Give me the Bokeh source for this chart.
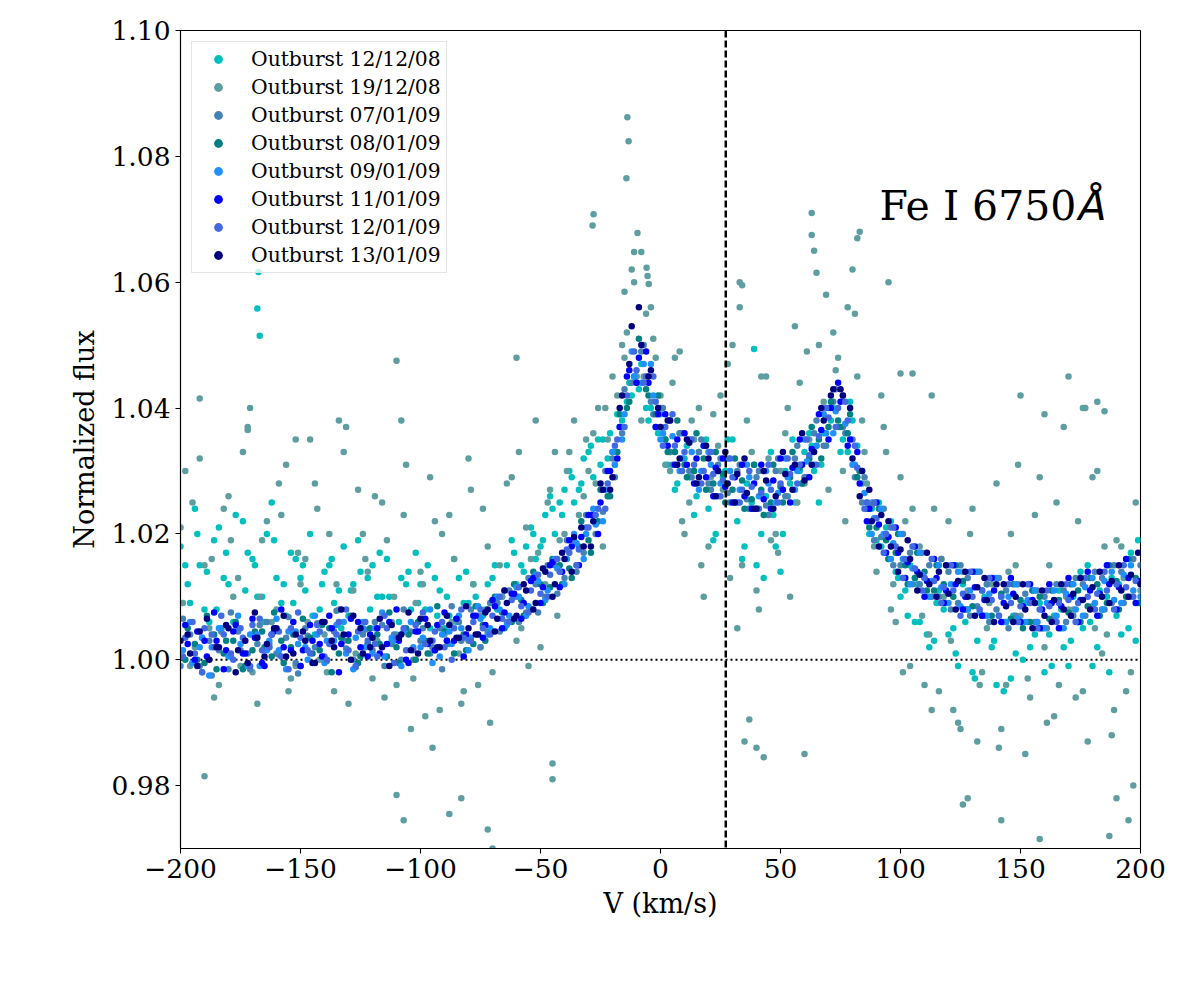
from bokeh.plotting import figure
from bokeh.models import Range1d, FixedTicker, Span, Label, PrintfTickFormatter
from bokeh.embed import file_html
from bokeh.resources import INLINE

# ---------------- data ----------------
SERIES_LABELS = ["Outburst 12/12/08", "Outburst 19/12/08", "Outburst 07/01/09",
                 "Outburst 08/01/09", "Outburst 09/01/09", "Outburst 11/01/09",
                 "Outburst 12/01/09", "Outburst 13/01/09"]
SERIES_COLORS = ["#00bfbf", "#5f9ea0", "#4682b4", "#008080", "#1e90ff",
                 "#0000ff", "#4169e1", "#000080"]

XTICKS = [-200, -150, -100, -50, 0, 50, 100, 150, 200]
YTICKS = [0.98, 1.00, 1.02, 1.04, 1.06, 1.08, 1.10]

V_SYS = 27.2          # systemic velocity (dashed line)
CONTINUUM = 1.0       # continuum level (dotted line)

# velocity samples (km/s)
V_A = [-200, -196, -192, -188, -184, -180, -176, -172, -168, -164,
       -160, -156, -152, -148, -144, -140, -136, -132, -128, -124,
       -120, -116, -112, -108, -104, -100, -96, -92, -88, -84,
       -80, -76, -72, -68, -64, -60, -56, -52, -48, -44,
       -40, -36, -32, -28, -24, -20, -16, -12, -8, -4,
       0, 4, 8, 12, 16, 20, 24, 28, 32, 36,
       40, 44, 48, 52, 56, 60, 64, 68, 72, 76,
       80, 84, 88, 92, 96, 100, 104, 108, 112, 116,
       120, 124, 128, 132, 136, 140, 144, 148, 152, 156,
       160, 164, 168, 172, 176, 180, 184, 188, 192, 196,
       200]
V_B = [-198, -194, -190, -186, -182, -178, -174, -170, -166, -162,
       -158, -154, -150, -146, -142, -138, -134, -130, -126, -122,
       -118, -114, -110, -106, -102, -98, -94, -90, -86, -82,
       -78, -74, -70, -66, -62, -58, -54, -50, -46, -42,
       -38, -34, -30, -26, -22, -18, -14, -10, -6, -2,
       2, 6, 10, 14, 18, 22, 26, 30, 34, 38,
       42, 46, 50, 54, 58, 62, 66, 70, 74, 78,
       82, 86, 90, 94, 98, 102, 106, 110, 114, 118,
       122, 126, 130, 134, 138, 142, 146, 150, 154, 158,
       162, 166, 170, 174, 178, 182, 186, 190, 194, 198]
V_C = [-199, -195, -191, -187, -183, -179, -175, -171, -167, -163,
       -159, -155, -151, -147, -143, -139, -135, -131, -127, -123,
       -119, -115, -111, -107, -103, -99, -95, -91, -87, -83,
       -79, -75, -71, -67, -63, -59, -55, -51, -47, -43,
       -39, -35, -31, -27, -23, -19, -15, -11, -7, -3,
       1, 5, 9, 13, 17, 21, 25, 29, 33, 37,
       41, 45, 49, 53, 57, 61, 65, 69, 73, 77,
       81, 85, 89, 93, 97, 101, 105, 109, 113, 117,
       121, 125, 129, 133, 137, 141, 145, 149, 153, 157,
       161, 165, 169, 173, 177, 181, 185, 189, 193, 197]
V_D = [-197, -193, -189, -185, -181, -177, -173, -169, -165, -161,
       -157, -153, -149, -145, -141, -137, -133, -129, -125, -121,
       -117, -113, -109, -105, -101, -97, -93, -89, -85, -81,
       -77, -73, -69, -65, -61, -57, -53, -49, -45, -41,
       -37, -33, -29, -25, -21, -17, -13, -9, -5, -1,
       3, 7, 11, 15, 19, 23, 27, 31, 35, 39,
       43, 47, 51, 55, 59, 63, 67, 71, 75, 79,
       83, 87, 91, 95, 99, 103, 107, 111, 115, 119,
       123, 127, 131, 135, 139, 143, 147, 151, 155, 159,
       163, 167, 171, 175, 179, 183, 187, 191, 195, 199]

# ---- Outburst 12/12/08 (three passes + a few outliers)
F_1212_A = [1.0180, 1.0090, 1.0150, 1.0060, 1.0210, 1.0120, 1.0050, 1.0170, 1.0100, 1.0200,
            1.0130, 1.0070, 1.0160, 1.0110, 1.0040, 1.0140, 1.0090, 1.0180, 1.0120, 1.0060,
            1.0150, 1.0100, 1.0030, 1.0130, 1.0080, 1.0120, 1.0050, 1.0110, 1.0070, 1.0130,
            1.0090, 1.0040, 1.0120, 1.0080, 1.0150, 1.0120, 1.0180, 1.0160, 1.0230, 1.0200,
            1.0270, 1.0250, 1.0320, 1.0290, 1.0350, 1.0330, 1.0380, 1.0420, 1.0470, 1.0400,
            1.0390, 1.0330, 1.0360, 1.0290, 1.0330, 1.0240, 1.0300, 1.0350, 1.0220, 1.0280,
            1.0150, 1.0260, 1.0180, 1.0300, 1.0250, 1.0330, 1.0300, 1.0360, 1.0400, 1.0350,
            1.0380, 1.0280, 1.0240, 1.0180, 1.0220, 1.0100, 1.0150, 1.0060, 1.0020, 1.0110,
            1.0040, 0.9990, 1.0080, 1.0030, 1.0120, 0.9960, 1.0060, 1.0010, 1.0090, 1.0040,
            0.9980, 1.0070, 1.0020, 1.0100, 1.0050, 0.9990, 1.0080, 1.0130, 1.0040, 1.0170,
            1.0090]
F_1212_D = [1.0120, 1.0200, 1.0140, 1.0080, 1.0170, 1.0230, 1.0110, 1.0150, 1.0060, 1.0190,
            1.0120, 1.0090, 1.0150, 1.0070, 1.0120, 1.0160, 1.0050, 1.0110, 1.0140, 1.0080,
            1.0170, 1.0100, 1.0060, 1.0140, 1.0090, 1.0150, 1.0070, 1.0100, 1.0060, 1.0140,
            1.0100, 1.0080, 1.0150, 1.0110, 1.0170, 1.0140, 1.0200, 1.0190, 1.0240, 1.0230,
            1.0290, 1.0280, 1.0340, 1.0310, 1.0360, 1.0370, 1.0440, 1.0430, 1.0380, 1.0360,
            1.0310, 1.0280, 1.0340, 1.0260, 1.0350, 1.0200, 1.0300, 1.0250, 1.0180, 1.0310,
            1.0130, 1.0230, 1.0200, 1.0350, 1.0280, 1.0340, 1.0310, 1.0380, 1.0330, 1.0410,
            1.0300, 1.0200, 1.0250, 1.0160, 1.0130, 1.0070, 1.0120, 1.0040, 1.0090, 1.0150,
            1.0010, 1.0060, 0.9970, 1.0100, 1.0030, 0.9950, 1.0070, 1.0000, 1.0110, 1.0050,
            0.9990, 1.0080, 1.0030, 1.0140, 1.0060, 1.0110, 0.9980, 1.0120, 1.0050, 1.0190]
F_1212_B = [1.0150, 1.0240, 1.0080, 1.0190, 1.0130, 1.0060, 1.0220, 1.0160, 1.0100, 1.0250,
            1.0090, 1.0170, 1.0130, 1.0200, 1.0080, 1.0150, 1.0110, 1.0070, 1.0190, 1.0130,
            1.0100, 1.0160, 1.0040, 1.0120, 1.0170, 1.0080, 1.0130, 1.0050, 1.0160, 1.0090,
            1.0120, 1.0070, 1.0130, 1.0100, 1.0190, 1.0150, 1.0210, 1.0180, 1.0260, 1.0250,
            1.0300, 1.0270, 1.0330, 1.0350, 1.0320, 1.0390, 1.0410, 1.0450, 1.0400, 1.0370,
            1.0350, 1.0270, 1.0320, 1.0230, 1.0340, 1.0190, 1.0290, 1.0350, 1.0160, 1.0250,
            1.0200, 1.0330, 1.0140, 1.0280, 1.0300, 1.0360, 1.0250, 1.0400, 1.0370, 1.0330,
            1.0340, 1.0250, 1.0190, 1.0210, 1.0140, 1.0110, 1.0060, 1.0130, 1.0030, 1.0080,
            1.0050, 1.0120, 0.9980, 1.0070, 1.0020, 1.0100, 0.9970, 1.0060, 1.0020, 1.0090,
            1.0040, 1.0110, 0.9990, 1.0060, 1.0150, 1.0020, 1.0100, 1.0070, 1.0160, 1.0030]
V_1212_OUT = [-167.5, -168.0, -167.0, 39.0]
F_1212_OUT = [1.0616, 1.0558, 1.0515, 1.0494]

# ---- Outburst 19/12/08 (noisy)
F_1912_A = [1.0210, 0.9990, 1.0320, 1.0050, 0.9960, 1.0260, 1.0130, 1.0370, 0.9930, 1.0220,
            1.0080, 1.0310, 0.9990, 1.0160, 1.0280, 1.0040, 0.9950, 1.0330, 1.0110, 1.0200,
            0.9970, 1.0250, 1.0060, 1.0380, 0.9890, 1.0140, 1.0290, 0.9920, 1.0230, 1.0010,
            1.0320, 0.9960, 1.0180, 1.0090, 1.0280, 1.0030, 1.0210, 1.0380, 1.0120, 1.0330,
            1.0200, 1.0380, 1.0260, 1.0360, 1.0180, 1.0450, 1.0500, 1.0620, 1.0380, 1.0560,
            1.0420, 1.0300, 1.0490, 1.0250, 1.0400, 1.0180, 1.0340, 1.0470, 1.0050, 1.0380,
            1.0110, 1.0450, 1.0200, 1.0360, 1.0530, 1.0280, 1.0650, 1.0410, 1.0520, 1.0300,
            1.0620, 1.0380, 1.0250, 1.0420, 1.0080, 1.0290, 0.9990, 1.0180, 1.0040, 0.9950,
            1.0220, 0.9900, 1.0110, 0.9870, 1.0050, 1.0280, 0.9960, 1.0150, 0.9850, 1.0230,
            1.0020, 0.9910, 1.0370, 1.0080, 0.9950, 1.0290, 1.0010, 0.9880, 1.0180, 0.9980,
            1.0110]
F_1912_C = [1.0090, 1.0250, 0.9980, 1.0160, 1.0050, 1.0190, 0.9990, 1.0400, 1.0100, 1.0020,
            1.0280, 0.9950, 1.0170, 1.0060, 1.0240, 0.9980, 1.0120, 1.0370, 1.0010, 1.0160,
            1.0260, 0.9940, 1.0100, 1.0230, 0.9970, 1.0120, 0.9860, 1.0200, 1.0060, 0.9930,
            1.0270, 1.0020, 0.9900, 1.0150, 1.0060, 1.0330, 0.9990, 1.0170, 1.0250, 1.0070,
            1.0300, 1.0150, 1.0350, 1.0280, 1.0400, 1.0310, 1.0480, 1.0600, 1.0450, 1.0510,
            1.0360, 1.0440, 1.0220, 1.0380, 1.0150, 1.0290, 1.0420, 1.0130, 1.0560, 1.0240,
            1.0080, 1.0320, 1.0170, 1.0400, 1.0250, 1.0490, 1.0340, 1.0580, 1.0460, 1.0220,
            1.0550, 1.0330, 1.0180, 1.0370, 1.0120, 0.9980, 1.0240, 1.0070, 0.9920, 1.0160,
            1.0030, 0.9890, 1.0200, 0.9960, 1.0090, 0.9860, 1.0140, 1.0310, 0.9970, 1.0060,
            0.9900, 1.0250, 1.0100, 0.9940, 1.0400, 1.0050, 1.0180, 0.9920, 1.0130, 0.9800]
F_1912_B = [1.0300, 1.0020, 1.0150, 0.9940, 1.0240, 1.0100, 1.0330, 0.9980, 1.0190, 1.0060,
            1.0230, 0.9970, 1.0120, 1.0350, 1.0000, 1.0200, 1.0080, 0.9930, 1.0270, 1.0140,
            1.0030, 1.0190, 0.9960, 1.0310, 1.0090, 0.9910, 1.0220, 1.0040, 1.0160, 0.9950,
            1.0120, 1.0240, 0.9980, 1.0100, 1.0290, 1.0050, 1.0160, 1.0020, 1.0270, 1.0190,
            1.0330, 1.0230, 1.0300, 1.0400, 1.0350, 1.0420, 1.0520, 1.0450, 1.0550, 1.0480,
            1.0310, 1.0480, 1.0200, 1.0350, 1.0100, 1.0390, 1.0270, 1.0500, 1.0150, 1.0330,
            1.0450, 1.0190, 1.0300, 1.0100, 1.0440, 1.0350, 1.0500, 1.0270, 1.0480, 1.0560,
            1.0450, 1.0280, 1.0140, 1.0330, 1.0060, 1.0220, 1.0130, 0.9960, 1.0240, 1.0100,
            0.9920, 1.0140, 1.0240, 0.9980, 1.0120, 0.9890, 1.0200, 1.0070, 0.9940, 1.0290,
            1.0150, 0.9960, 1.0080, 1.0220, 0.9870, 1.0300, 1.0040, 1.0190, 0.9950, 1.0250]
V_1912_OUT = [-13.8, -13.3, -14.2, -27.9, -28.3, -9.6, -11, -8, -5.8, -5.4,
              -4.9, -15, -110, -192, -190, -107, -110, -70, -72, -88,
              -83, 33, 34, 63, 63, 83, 82, 65, 95, 35,
              37, 40, 43, 105, 142, 158, 187, 195, 190, 170,
              182, 185, -45, -45, 128, 126, 60, 150, 160, 176,
              113, 100, -172, -134, -152, -60]
F_1912_OUT = [1.0862, 1.0824, 1.0765, 1.0708, 1.0690, 1.0678, 1.0648, 1.0648, 1.0623, 1.0610,
              1.0597, 1.0585, 1.0475, 1.0415, 0.9815, 0.9745, 0.9785, 0.9700, 0.9730, 0.9755,
              0.9780, 1.0600, 1.0595, 1.0710, 1.0675, 1.0680, 1.0670, 1.0615, 1.0600, 0.9870,
              0.9905, 0.9860, 0.9845, 1.0455, 0.9745, 0.9715, 0.9720, 0.9745, 0.9780, 1.0450,
              1.0410, 1.0395, 0.9835, 0.9810, 0.9780, 0.9770, 0.9850, 1.0420, 1.0390, 1.0400,
              1.0420, 1.0455, 1.0365, 1.0380, 1.0350, 1.0480]

# ---- Outburst 07/01/09 (grids A and C)
F_0701_A = [1.0005, 1.0040, 0.9990, 1.0030, 1.0015, 0.9985, 1.0045, 1.0010, 1.0025, 1.0060,
            1.0010, 1.0035, 0.9995, 1.0050, 1.0020, 1.0005, 1.0045, 1.0030, 1.0000, 1.0040,
            1.0015, 1.0055, 1.0025, 1.0000, 1.0045, 1.0030, 1.0010, 1.0050, 1.0025, 1.0060,
            1.0030, 1.0070, 1.0045, 1.0090, 1.0060, 1.0100, 1.0075, 1.0120, 1.0100, 1.0150,
            1.0130, 1.0190, 1.0170, 1.0230, 1.0235, 1.0320, 1.0360, 1.0440, 1.0490, 1.0410,
            1.0400, 1.0330, 1.0360, 1.0300, 1.0330, 1.0280, 1.0310, 1.0265, 1.0300, 1.0255,
            1.0290, 1.0245, 1.0300, 1.0260, 1.0320, 1.0290, 1.0360, 1.0340, 1.0410, 1.0370,
            1.0350, 1.0250, 1.0245, 1.0195, 1.0210, 1.0150, 1.0170, 1.0120, 1.0150, 1.0100,
            1.0140, 1.0090, 1.0130, 1.0085, 1.0120, 1.0080, 1.0110, 1.0070, 1.0105, 1.0060,
            1.0100, 1.0065, 1.0110, 1.0070, 1.0120, 1.0085, 1.0130, 1.0090, 1.0140, 1.0100,
            1.0150]
F_0701_C = [1.0065, 0.9995, 1.0035, 0.9975, 1.0045, 1.0075, 1.0015, 0.9985, 1.0055, 1.0025,
            1.0008, 1.0068, 0.9978, 1.0038, 1.0058, 0.9998, 1.0078, 1.0018, 0.9988, 1.0048,
            1.0060, 0.9990, 1.0040, 1.0080, 1.0000, 1.0050, 1.0020, 0.9985, 1.0085, 1.0030,
            1.0080, 1.0020, 1.0090, 1.0045, 1.0110, 1.0060, 1.0130, 1.0075, 1.0150, 1.0105,
            1.0190, 1.0140, 1.0230, 1.0200, 1.0300, 1.0290, 1.0430, 1.0450, 1.0500, 1.0390,
            1.0400, 1.0310, 1.0360, 1.0290, 1.0350, 1.0270, 1.0320, 1.0250, 1.0310, 1.0240,
            1.0300, 1.0230, 1.0320, 1.0260, 1.0340, 1.0290, 1.0380, 1.0340, 1.0430, 1.0360,
            1.0290, 1.0290, 1.0190, 1.0240, 1.0150, 1.0200, 1.0120, 1.0170, 1.0100, 1.0160,
            1.0080, 1.0150, 1.0070, 1.0140, 1.0060, 1.0130, 1.0050, 1.0120, 1.0060, 1.0110,
            1.0050, 1.0120, 1.0060, 1.0130, 1.0070, 1.0140, 1.0080, 1.0150, 1.0090, 1.0160]

# ---- Outburst 08/01/09 (grids B and D)
F_0801_B = [1.0000, 1.0025, 0.9995, 1.0040, 1.0010, 1.0030, 0.9985, 1.0015, 1.0045, 1.0005,
            1.0030, 1.0020, 0.9990, 1.0035, 1.0015, 1.0050, 1.0010, 1.0030, 0.9995, 1.0025,
            1.0040, 1.0005, 1.0020, 1.0050, 1.0000, 1.0030, 1.0015, 1.0045, 1.0010, 1.0040,
            1.0025, 1.0055, 1.0045, 1.0075, 1.0060, 1.0095, 1.0080, 1.0120, 1.0115, 1.0150,
            1.0145, 1.0180, 1.0190, 1.0220, 1.0260, 1.0330, 1.0400, 1.0440, 1.0430, 1.0390,
            1.0350, 1.0330, 1.0310, 1.0300, 1.0320, 1.0280, 1.0295, 1.0270, 1.0285, 1.0255,
            1.0270, 1.0250, 1.0275, 1.0290, 1.0305, 1.0320, 1.0350, 1.0370, 1.0380, 1.0360,
            1.0290, 1.0240, 1.0210, 1.0190, 1.0170, 1.0150, 1.0130, 1.0140, 1.0110, 1.0120,
            1.0100, 1.0125, 1.0085, 1.0110, 1.0070, 1.0105, 1.0065, 1.0095, 1.0060, 1.0100,
            1.0065, 1.0095, 1.0075, 1.0110, 1.0085, 1.0120, 1.0090, 1.0125, 1.0100, 1.0130]
F_0801_D = [1.0050, 1.0000, 1.0070, 0.9985, 1.0030, 1.0060, 0.9990, 1.0045, 1.0020, 1.0075,
            0.9995, 1.0040, 1.0065, 1.0010, 1.0055, 0.9980, 1.0035, 1.0070, 1.0005, 1.0050,
            1.0025, 1.0075, 0.9995, 1.0040, 1.0060, 1.0010, 1.0085, 1.0030, 1.0065, 1.0015,
            1.0085, 1.0030, 1.0100, 1.0050, 1.0120, 1.0070, 1.0140, 1.0090, 1.0160, 1.0120,
            1.0130, 1.0220, 1.0170, 1.0270, 1.0260, 1.0390, 1.0410, 1.0510, 1.0420, 1.0420,
            1.0330, 1.0380, 1.0290, 1.0360, 1.0270, 1.0330, 1.0250, 1.0320, 1.0240, 1.0310,
            1.0230, 1.0310, 1.0250, 1.0330, 1.0280, 1.0370, 1.0320, 1.0410, 1.0370, 1.0390,
            1.0300, 1.0210, 1.0240, 1.0160, 1.0200, 1.0120, 1.0170, 1.0110, 1.0150, 1.0090,
            1.0150, 1.0080, 1.0140, 1.0070, 1.0130, 1.0060, 1.0120, 1.0050, 1.0110, 1.0050,
            1.0110, 1.0050, 1.0120, 1.0060, 1.0130, 1.0070, 1.0150, 1.0080, 1.0160, 1.0090]

# ---- Outburst 09/01/09 (grids C and A)
F_0901_C = [1.0015, 0.9995, 1.0035, 1.0020, 1.0050, 1.0005, 1.0025, 1.0040, 0.9990, 1.0030,
            1.0015, 1.0045, 1.0025, 1.0000, 1.0040, 1.0030, 1.0055, 1.0010, 1.0035, 1.0020,
            1.0050, 1.0005, 1.0030, 1.0045, 1.0020, 1.0035, 0.9995, 1.0040, 1.0025, 1.0050,
            1.0035, 1.0065, 1.0050, 1.0080, 1.0070, 1.0100, 1.0085, 1.0125, 1.0110, 1.0145,
            1.0160, 1.0185, 1.0200, 1.0215, 1.0270, 1.0310, 1.0390, 1.0450, 1.0470, 1.0420,
            1.0360, 1.0355, 1.0320, 1.0330, 1.0300, 1.0310, 1.0280, 1.0300, 1.0270, 1.0290,
            1.0260, 1.0280, 1.0265, 1.0290, 1.0300, 1.0315, 1.0340, 1.0360, 1.0395, 1.0375,
            1.0310, 1.0265, 1.0225, 1.0200, 1.0185, 1.0160, 1.0145, 1.0135, 1.0125, 1.0115,
            1.0120, 1.0085, 1.0110, 1.0075, 1.0105, 1.0070, 1.0100, 1.0065, 1.0095, 1.0060,
            1.0090, 1.0070, 1.0105, 1.0080, 1.0115, 1.0090, 1.0125, 1.0095, 1.0135, 1.0110]
F_0901_A = [0.9990, 1.0060, 1.0020, 0.9975, 1.0050, 1.0005, 1.0070, 0.9990, 1.0040, 1.0015,
            1.0065, 0.9985, 1.0045, 1.0020, 1.0070, 0.9995, 1.0030, 1.0060, 0.9985, 1.0050,
            1.0010, 1.0075, 1.0035, 0.9990, 1.0060, 1.0020, 1.0080, 1.0005, 1.0045, 1.0070,
            1.0015, 1.0085, 1.0040, 1.0100, 1.0055, 1.0115, 1.0070, 1.0135, 1.0095, 1.0160,
            1.0120, 1.0200, 1.0160, 1.0240, 1.0220, 1.0330, 1.0350, 1.0490, 1.0440, 1.0470,
            1.0350, 1.0380, 1.0300, 1.0350, 1.0270, 1.0330, 1.0260, 1.0320, 1.0250, 1.0310,
            1.0240, 1.0300, 1.0250, 1.0320, 1.0270, 1.0350, 1.0310, 1.0390, 1.0360, 1.0420,
            1.0310, 1.0300, 1.0200, 1.0240, 1.0160, 1.0200, 1.0120, 1.0170, 1.0100, 1.0150,
            1.0090, 1.0140, 1.0080, 1.0140, 1.0070, 1.0130, 1.0060, 1.0120, 1.0060, 1.0110,
            1.0050, 1.0110, 1.0050, 1.0120, 1.0070, 1.0130, 1.0080, 1.0140, 1.0090, 1.0150,
            1.0100]

# ---- Outburst 11/01/09 (grids D and B)
F_1101_D = [1.0025, 1.0045, 1.0005, 1.0030, 1.0015, 1.0055, 1.0010, 1.0035, 0.9990, 1.0045,
            1.0020, 1.0060, 1.0015, 1.0030, 1.0005, 1.0050, 1.0025, 1.0065, 1.0020, 1.0040,
            1.0010, 1.0060, 1.0030, 0.9995, 1.0045, 1.0025, 1.0055, 1.0030, 1.0065, 1.0040,
            1.0070, 1.0055, 1.0085, 1.0075, 1.0105, 1.0090, 1.0130, 1.0115, 1.0155, 1.0140,
            1.0180, 1.0195, 1.0230, 1.0250, 1.0300, 1.0370, 1.0460, 1.0480, 1.0440, 1.0390,
            1.0340, 1.0350, 1.0310, 1.0320, 1.0290, 1.0305, 1.0275, 1.0290, 1.0260, 1.0280,
            1.0255, 1.0285, 1.0270, 1.0305, 1.0310, 1.0335, 1.0365, 1.0400, 1.0410, 1.0350,
            1.0280, 1.0240, 1.0215, 1.0195, 1.0170, 1.0155, 1.0140, 1.0125, 1.0130, 1.0110,
            1.0120, 1.0100, 1.0115, 1.0095, 1.0110, 1.0090, 1.0105, 1.0085, 1.0095, 1.0080,
            1.0090, 1.0085, 1.0100, 1.0095, 1.0110, 1.0105, 1.0120, 1.0115, 1.0130, 1.0125]
F_1101_B = [1.0055, 1.0000, 1.0030, 1.0075, 0.9985, 1.0045, 1.0010, 1.0065, 0.9995, 1.0040,
            1.0080, 1.0015, 0.9990, 1.0055, 1.0025, 1.0070, 0.9980, 1.0040, 1.0060, 1.0005,
            1.0050, 1.0025, 1.0080, 1.0000, 1.0045, 1.0065, 1.0015, 1.0075, 1.0030, 1.0005,
            1.0070, 1.0035, 1.0095, 1.0050, 1.0105, 1.0065, 1.0125, 1.0090, 1.0150, 1.0115,
            1.0190, 1.0150, 1.0230, 1.0200, 1.0300, 1.0320, 1.0450, 1.0440, 1.0490, 1.0370,
            1.0390, 1.0310, 1.0360, 1.0280, 1.0340, 1.0260, 1.0320, 1.0250, 1.0310, 1.0240,
            1.0310, 1.0240, 1.0320, 1.0250, 1.0350, 1.0290, 1.0390, 1.0350, 1.0440, 1.0340,
            1.0330, 1.0220, 1.0250, 1.0170, 1.0210, 1.0130, 1.0180, 1.0100, 1.0160, 1.0090,
            1.0150, 1.0080, 1.0140, 1.0070, 1.0130, 1.0060, 1.0130, 1.0060, 1.0120, 1.0050,
            1.0120, 1.0050, 1.0130, 1.0060, 1.0140, 1.0070, 1.0150, 1.0080, 1.0160, 1.0090]

# ---- Outburst 12/01/09 (grids B and C)
F_1201_B = [1.0035, 1.0010, 1.0050, 1.0020, 1.0040, 1.0000, 1.0035, 1.0055, 1.0015, 1.0040,
            1.0005, 1.0050, 1.0035, 1.0010, 1.0045, 1.0025, 1.0060, 1.0015, 1.0045, 1.0030,
            1.0005, 1.0050, 1.0035, 1.0015, 1.0055, 1.0025, 1.0045, 1.0020, 1.0050, 1.0035,
            1.0060, 1.0050, 1.0070, 1.0065, 1.0095, 1.0085, 1.0110, 1.0105, 1.0135, 1.0140,
            1.0170, 1.0175, 1.0210, 1.0240, 1.0280, 1.0350, 1.0420, 1.0460, 1.0450, 1.0410,
            1.0370, 1.0340, 1.0330, 1.0310, 1.0300, 1.0295, 1.0285, 1.0290, 1.0270, 1.0275,
            1.0265, 1.0270, 1.0280, 1.0295, 1.0310, 1.0325, 1.0355, 1.0385, 1.0400, 1.0380,
            1.0305, 1.0250, 1.0225, 1.0200, 1.0180, 1.0160, 1.0145, 1.0130, 1.0125, 1.0115,
            1.0110, 1.0105, 1.0100, 1.0110, 1.0095, 1.0100, 1.0090, 1.0085, 1.0090, 1.0080,
            1.0085, 1.0090, 1.0095, 1.0090, 1.0100, 1.0105, 1.0110, 1.0120, 1.0115, 1.0125]
F_1201_C = [1.0005, 1.0060, 0.9980, 1.0040, 1.0070, 1.0010, 1.0050, 0.9990, 1.0065, 1.0020,
            1.0045, 0.9985, 1.0075, 1.0015, 1.0055, 1.0000, 1.0040, 1.0080, 0.9990, 1.0060,
            1.0025, 1.0070, 0.9995, 1.0050, 1.0015, 1.0075, 1.0030, 1.0060, 1.0000, 1.0080,
            1.0030, 1.0080, 1.0040, 1.0100, 1.0060, 1.0115, 1.0075, 1.0135, 1.0100, 1.0160,
            1.0175, 1.0150, 1.0210, 1.0230, 1.0240, 1.0340, 1.0370, 1.0490, 1.0440, 1.0450,
            1.0340, 1.0390, 1.0300, 1.0350, 1.0280, 1.0330, 1.0260, 1.0320, 1.0250, 1.0300,
            1.0240, 1.0310, 1.0250, 1.0320, 1.0280, 1.0350, 1.0310, 1.0400, 1.0370, 1.0410,
            1.0340, 1.0240, 1.0250, 1.0170, 1.0210, 1.0130, 1.0180, 1.0110, 1.0160, 1.0090,
            1.0150, 1.0070, 1.0140, 1.0080, 1.0130, 1.0070, 1.0120, 1.0060, 1.0120, 1.0050,
            1.0110, 1.0060, 1.0120, 1.0060, 1.0130, 1.0080, 1.0140, 1.0080, 1.0150, 1.0100]

# ---- Outburst 13/01/09 (grids A and D)
F_1301_A = [1.0030, 1.0010, 1.0045, 1.0000, 1.0020, 1.0050, 1.0015, 0.9995, 1.0035, 1.0025,
            1.0050, 1.0005, 1.0040, 1.0030, 0.9995, 1.0060, 1.0020, 1.0040, 1.0070, 1.0010,
            1.0035, 1.0020, 1.0055, 1.0040, 1.0015, 1.0065, 1.0030, 1.0020, 1.0055, 1.0035,
            1.0050, 1.0040, 1.0080, 1.0065, 1.0090, 1.0070, 1.0110, 1.0090, 1.0140, 1.0120,
            1.0160, 1.0195, 1.0180, 1.0220, 1.0270, 1.0290, 1.0420, 1.0530, 1.0500, 1.0460,
            1.0370, 1.0380, 1.0320, 1.0345, 1.0290, 1.0320, 1.0300, 1.0280, 1.0295, 1.0265,
            1.0240, 1.0285, 1.0260, 1.0295, 1.0310, 1.0285, 1.0330, 1.0380, 1.0430, 1.0420,
            1.0320, 1.0300, 1.0220, 1.0230, 1.0180, 1.0175, 1.0160, 1.0135, 1.0120, 1.0140,
            1.0105, 1.0125, 1.0100, 1.0115, 1.0095, 1.0120, 1.0085, 1.0100, 1.0080, 1.0090,
            1.0070, 1.0095, 1.0080, 1.0105, 1.0095, 1.0115, 1.0100, 1.0125, 1.0110, 1.0135,
            1.0120]
F_1301_D = [1.0040, 0.9990, 1.0065, 1.0020, 1.0055, 0.9980, 1.0030, 1.0075, 1.0005, 1.0050,
            1.0070, 1.0010, 1.0045, 0.9995, 1.0060, 1.0030, 1.0080, 1.0000, 1.0050, 1.0020,
            1.0065, 0.9990, 1.0035, 1.0075, 1.0010, 1.0055, 1.0020, 1.0070, 1.0035, 1.0085,
            1.0040, 1.0075, 1.0045, 1.0110, 1.0065, 1.0120, 1.0080, 1.0145, 1.0100, 1.0170,
            1.0140, 1.0210, 1.0180, 1.0280, 1.0270, 1.0400, 1.0470, 1.0560, 1.0450, 1.0400,
            1.0380, 1.0310, 1.0350, 1.0280, 1.0340, 1.0260, 1.0330, 1.0250, 1.0320, 1.0240,
            1.0300, 1.0240, 1.0330, 1.0270, 1.0360, 1.0310, 1.0400, 1.0420, 1.0430, 1.0400,
            1.0260, 1.0270, 1.0180, 1.0220, 1.0140, 1.0190, 1.0110, 1.0170, 1.0100, 1.0150,
            1.0080, 1.0140, 1.0070, 1.0130, 1.0060, 1.0120, 1.0060, 1.0120, 1.0050, 1.0110,
            1.0060, 1.0120, 1.0070, 1.0130, 1.0080, 1.0140, 1.0090, 1.0150, 1.0100, 1.0170]

SERIES_V = [V_A + V_D + V_B + V_1212_OUT,
            V_A + V_C + V_B + V_1912_OUT,
            V_A + V_C, V_B + V_D, V_C + V_A, V_D + V_B, V_B + V_C, V_A + V_D]
SERIES_F = [F_1212_A + F_1212_D + F_1212_B + F_1212_OUT,
            F_1912_A + F_1912_C + F_1912_B + F_1912_OUT,
            F_0701_A + F_0701_C, F_0801_B + F_0801_D, F_0901_C + F_0901_A,
            F_1101_D + F_1101_B, F_1201_B + F_1201_C, F_1301_A + F_1301_D]

# ---------------- figure ----------------
SERIF = "DejaVu Serif"

p = figure(width=1180, height=980, output_backend="svg", toolbar_location=None,
           x_range=Range1d(-200, 200), y_range=Range1d(0.97, 1.10),
           min_border_left=180, min_border_right=40, min_border_top=30,
           min_border_bottom=132, background_fill_color="white",
           border_fill_color="white")
p.xgrid.visible = False
p.ygrid.visible = False
p.outline_line_color = "black"
p.outline_line_width = 1.1
p.outline_line_alpha = 1.0

# continuum (drawn beneath the points)
p.add_layout(Span(location=CONTINUUM, dimension="width", line_color="black",
                  line_width=2, line_dash="2 3", level="underlay"))

for v, f, c, lab in zip(SERIES_V, SERIES_F, SERIES_COLORS, SERIES_LABELS):
    n = min(len(v), len(f))
    p.scatter(v[:n], f[:n], size=6.5, fill_color=c, line_color=None,
              legend_label=lab)

# systemic velocity
p.add_layout(Span(location=V_SYS, dimension="height", line_color="black",
                  line_width=2.5, line_dash="7 3"))

# line identification
p.add_layout(Label(x=91.2, y=1.0721, text="Fe I 6750", text_font=SERIF,
                   text_font_size="41px", text_baseline="alphabetic",
                   text_align="left", text_color="black"))
p.add_layout(Label(x=91.2, y=1.0721, x_offset=199, text="Å", text_font="DejaVu Sans",
                   text_font_style="italic", text_font_size="41px",
                   text_baseline="alphabetic", text_align="left", text_color="black"))

# axes
p.xaxis.ticker = FixedTicker(ticks=XTICKS)
p.xaxis.major_label_overrides = {t: (("\u2212" + str(-t)) if t < 0 else str(t)) for t in XTICKS}
p.yaxis.ticker = FixedTicker(ticks=YTICKS)
p.yaxis.formatter = PrintfTickFormatter(format="%.2f")
p.xaxis.axis_label = "V (km/s)"
p.yaxis.axis_label = "Normalized flux"
for ax in (p.xaxis[0], p.yaxis[0]):
    ax.axis_line_color = "black"
    ax.axis_line_width = 1.1
    ax.major_tick_line_color = "black"
    ax.major_tick_line_width = 1.1
    ax.major_tick_out = 5
    ax.major_tick_in = 0
    ax.minor_tick_out = 0
    ax.minor_tick_in = 0
    ax.major_label_text_font = SERIF
    ax.major_label_text_font_size = "26.5px"
    ax.major_label_text_color = "black"
    ax.major_label_standoff = 5
    ax.axis_label_text_font = SERIF
    ax.axis_label_text_font_size = "27px"
    ax.axis_label_text_font_style = "normal"
    ax.axis_label_text_color = "black"
p.xaxis.axis_label_standoff = 7
p.yaxis.axis_label_standoff = 8

# legend
lg = p.legend[0]
lg.location = "top_left"
lg.margin = 11
lg.padding = 5
lg.spacing = 4
lg.label_height = 22
lg.glyph_height = 22
lg.glyph_width = 42
lg.label_standoff = 12
lg.label_text_font = SERIF
lg.label_text_font_size = "20.3px"
lg.label_text_color = "black"
lg.border_line_color = "#cccccc"
lg.border_line_width = 1
lg.background_fill_alpha = 0.8

open("out.html", "w").write(file_html(p, INLINE))
